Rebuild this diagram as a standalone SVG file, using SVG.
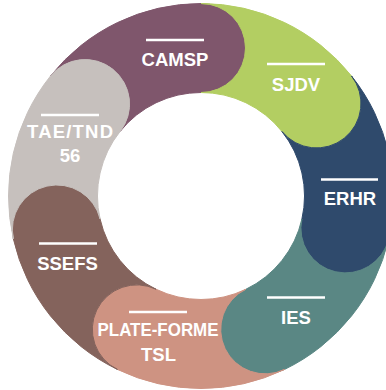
<svg xmlns="http://www.w3.org/2000/svg" width="386" height="390" viewBox="0 0 386 390">
<style>
.seg{stroke-width:1;stroke-linejoin:round}
.lbl{font-family:"Liberation Sans",Arial,sans-serif;font-weight:bold;font-size:18.5px;fill:#ffffff;text-anchor:middle}
.bar{stroke:#ffffff;stroke-width:2.6}
</style>
<rect width="386" height="390" fill="#ffffff"/>
<g id="camsp">
<path class="seg" fill="#7f566c" stroke="#7f566c" d="M50.50,75.98 A192.5 192.5 0 0 1 201,3.5 A44.5 44.5 0 0 1 201,92.5 A103.5 103.5 0 0 0 120.08,131.47 A44.5 44.5 0 0 0 50.50,75.98 Z"/>
<line class="bar" x1="146" y1="40" x2="204" y2="40"/>
<text class="lbl" x="175" y="65.5">CAMSP</text>
</g>
<g id="sjdv">
<path class="seg" fill="#b3ce62" stroke="#b3ce62" d="M201,3.5 A192.5 192.5 0 0 1 351.50,75.98 A44.5 44.5 0 0 1 281.92,131.47 A103.5 103.5 0 0 0 201,92.5 A44.5 44.5 0 0 0 201,3.5 Z"/>
<line class="bar" x1="267" y1="64" x2="325" y2="64"/>
<text class="lbl" x="296" y="90.5">SJDV</text>
</g>
<g id="erhr">
<path class="seg" fill="#2f4a6c" stroke="#2f4a6c" d="M351.50,75.98 A192.5 192.5 0 0 1 388.67,238.84 A44.5 44.5 0 0 1 301.91,219.03 A103.5 103.5 0 0 0 281.92,131.47 A44.5 44.5 0 0 0 351.50,75.98 Z"/>
<line class="bar" x1="321" y1="179.5" x2="378" y2="179.5"/>
<text class="lbl" x="350" y="204.5">ERHR</text>
</g>
<g id="ies">
<path class="seg" fill="#5a8784" stroke="#5a8784" d="M388.67,238.84 A192.5 192.5 0 0 1 284.52,369.44 A44.5 44.5 0 0 1 245.91,289.25 A103.5 103.5 0 0 0 301.91,219.03 A44.5 44.5 0 0 0 388.67,238.84 Z"/>
<line class="bar" x1="267" y1="297.5" x2="325" y2="297.5"/>
<text class="lbl" x="296" y="323.5">IES</text>
</g>
<g id="plateforme-tsl">
<path class="seg" fill="#ce9382" stroke="#ce9382" d="M284.52,369.44 A192.5 192.5 0 0 1 117.48,369.44 A44.5 44.5 0 0 1 156.09,289.25 A103.5 103.5 0 0 0 245.91,289.25 A44.5 44.5 0 0 0 284.52,369.44 Z"/>
<line class="bar" x1="129" y1="312" x2="187" y2="312"/>
<text class="lbl" x="158" y="336" textLength="121" lengthAdjust="spacingAndGlyphs">PLATE-FORME</text>
<text class="lbl" x="158.5" y="360.5">TSL</text>
</g>
<g id="ssefs">
<path class="seg" fill="#84635c" stroke="#84635c" d="M117.48,369.44 A192.5 192.5 0 0 1 13.33,238.84 A44.5 44.5 0 0 1 100.09,219.03 A103.5 103.5 0 0 0 156.09,289.25 A44.5 44.5 0 0 0 117.48,369.44 Z"/>
<line class="bar" x1="39" y1="243.5" x2="97" y2="243.5"/>
<text class="lbl" x="67.5" y="269.5">SSEFS</text>
</g>
<g id="tae-tnd-56">
<path class="seg" fill="#c6c0bd" stroke="#c6c0bd" d="M13.33,238.84 A192.5 192.5 0 0 1 50.50,75.98 A44.5 44.5 0 0 1 120.08,131.47 A103.5 103.5 0 0 0 100.09,219.03 A44.5 44.5 0 0 0 13.33,238.84 Z"/>
<line class="bar" x1="41" y1="115" x2="99" y2="115"/>
<text class="lbl" x="70" y="138" textLength="86" lengthAdjust="spacing">TAE/TND</text>
<text class="lbl" x="70" y="162">56</text>
</g>
<g id="connectors"></g>
</svg>
